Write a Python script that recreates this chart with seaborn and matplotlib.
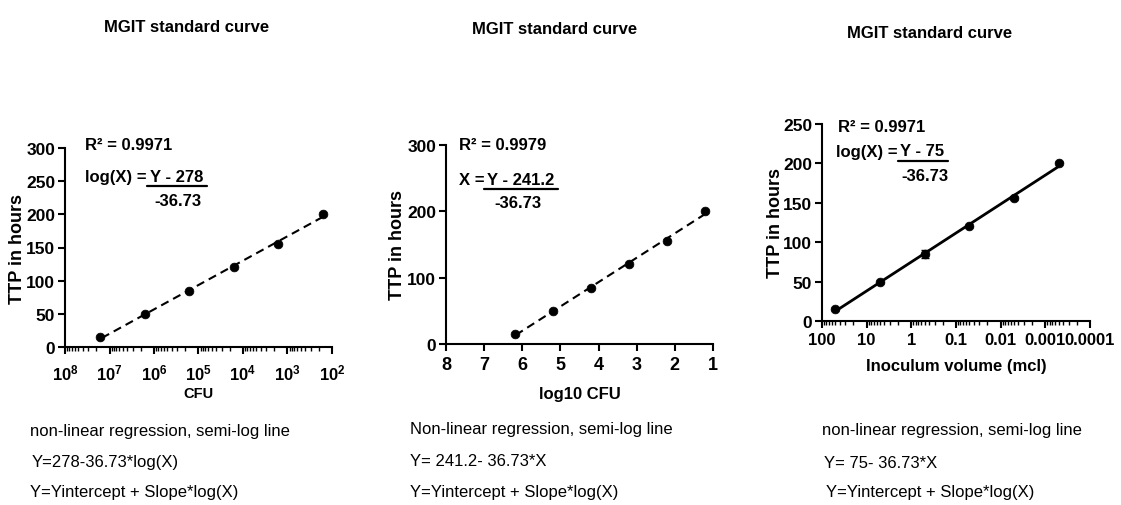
import numpy as np
import pandas as pd
import matplotlib
matplotlib.use("Agg")
import matplotlib.pyplot as plt
from matplotlib.lines import Line2D
from matplotlib.ticker import LogLocator, NullFormatter
import seaborn as sns

# --- data ---
cfu = [1.6e7, 1.6e6, 1.6e5, 1.6e4, 1.6e3, 1.6e2]
log10_cfu = [6.2, 5.2, 4.2, 3.2, 2.2, 1.2]
volume_mcl = [50, 5, 0.5, 0.05, 0.005, 0.0005]
ttp_hours = [15, 49, 85, 120, 156, 201]
ttp_sd = [1, 1, 5, 1, 1, 1]

cfu_ticks = [1e8, 1e7, 1e6, 1e5, 1e4, 1e3, 1e2]
cfu_labels = ["10$^{8}$", "10$^{7}$", "10$^{6}$", "10$^{5}$", "10$^{4}$", "10$^{3}$", "10$^{2}$"]
log_ticks = [8, 7, 6, 5, 4, 3, 2, 1]
vol_ticks = [100, 10, 1, 0.1, 0.01, 0.001, 0.0001]
vol_labels = ["100", "10", "1", "0.1", "0.01", "0.001", "0.0001"]

sns.set_style("ticks")
plt.rcParams['font.family'] = ['Liberation Sans', 'DejaVu Sans']
plt.rcParams['mathtext.fontset'] = 'custom'
plt.rcParams['mathtext.rm'] = 'Liberation Sans:bold'
plt.rcParams['mathtext.default'] = 'rm'
plt.rcParams['text.color'] = 'black'
plt.rcParams['axes.labelcolor'] = 'black'
plt.rcParams['xtick.color'] = 'black'
plt.rcParams['ytick.color'] = 'black'

W, H = 1121, 506
fig = plt.figure(figsize=(W / 100, H / 100), dpi=100)


def px_axes(l, t, r, b):
    return fig.add_axes([l / W, 1 - b / H, (r - l) / W, (b - t) / H])


def ftext(x, y, s, **kw):
    fig.text(x / W, 1 - y / H, s, **kw)


def uline(x0, x1, y):
    fig.add_artist(Line2D([x0 / W, x1 / W], [1 - y / H, 1 - y / H], color='black', lw=1.6))


df1 = pd.DataFrame({'x': cfu, 'y': ttp_hours})
df2 = pd.DataFrame({'x': log10_cfu, 'y': ttp_hours})
df3 = pd.DataFrame({'x': volume_mcl, 'y': ttp_hours, 'sd': ttp_sd})

ax1 = px_axes(65, 149, 332, 348)
ax2 = px_axes(446, 146, 713, 345)
ax3 = px_axes(822, 125, 1090, 322)

bold = dict(fontweight='bold', fontsize=12)

# panel 1
sns.regplot(data=df1, x='x', y='y', logx=True, ci=None, scatter=False, ax=ax1,
            line_kws=dict(color='black', lw=1.5, ls=(0, (4, 2.5))))
sns.scatterplot(data=df1, x='x', y='y', ax=ax1, color='black', s=40, edgecolor='black', zorder=3)
ax1.set_xscale('log')
ax1.set_xlim(1e8, 1e2)
ax1.set_xticks(cfu_ticks)
ax1.set_xticklabels(cfu_labels, fontsize=13)
ax1.set_ylim(0, 300)
ax1.set_yticks(range(0, 301, 50))
ax1.set_xlabel('CFU', fontweight='bold', fontsize=10.5, labelpad=3)

# panel 2
sns.regplot(data=df2, x='x', y='y', ci=None, scatter=False, ax=ax2,
            line_kws=dict(color='black', lw=1.5, ls=(0, (4, 2.5))))
sns.scatterplot(data=df2, x='x', y='y', ax=ax2, color='black', s=40, edgecolor='black', zorder=3)
ax2.set_xlim(8, 1)
ax2.set_xticks(log_ticks)
ax2.set_ylim(0, 300)
ax2.set_yticks([0, 100, 200, 300])
ax2.set_xlabel('log10 CFU', labelpad=9, **bold)

# panel 3
sns.regplot(data=df3, x='x', y='y', logx=True, ci=None, scatter=False, ax=ax3,
            line_kws=dict(color='black', lw=2))
ax3.errorbar(df3['x'], df3['y'], yerr=df3['sd'], fmt='none', ecolor='black', elinewidth=1.5, capsize=3)
sns.scatterplot(data=df3, x='x', y='y', ax=ax3, color='black', s=40, edgecolor='black', zorder=3)
ax3.set_xscale('log')
ax3.set_xlim(100, 1e-4)
ax3.set_xticks(vol_ticks)
ax3.set_xticklabels(vol_labels)
ax3.set_ylim(0, 250)
ax3.set_yticks(range(0, 251, 50))
ax3.set_xlabel('Inoculum volume (mcl)', labelpad=8, **bold)

for ax in (ax1, ax2, ax3):
    sns.despine(ax=ax)
    for s in ('left', 'bottom'):
        ax.spines[s].set_linewidth(1.5)
        ax.spines[s].set_color('black')
    ax.tick_params(axis='both', which='major', direction='out', length=5, width=1.5,
                   colors='black', labelsize=12, pad=3)
    ax.tick_params(axis='y', which='major', labelsize=12.5, pad=2)
    for lab in ax.get_xticklabels() + ax.get_yticklabels():
        lab.set_fontweight('bold')
    ax.set_ylabel('TTP in hours', fontweight='bold', fontsize=13)

for ax in (ax1, ax3):
    ax.xaxis.set_minor_locator(LogLocator(base=10, subs=np.arange(2, 10), numticks=100))
    ax.xaxis.set_minor_formatter(NullFormatter())
    ax.tick_params(axis='x', which='minor', direction='out', length=3, width=1, bottom=True)

ax1.tick_params(axis='x', which='major', pad=6)
ax2.tick_params(axis='x', which='major', pad=4, labelsize=13)

ax1.yaxis.set_label_coords(-(65 - 26) / 267, 0.5)
ax2.yaxis.set_label_coords(-(446 - 406) / 267, 0.5)
ax3.yaxis.set_label_coords(-(822 - 784) / 268, 0.5)

# titles
ftext(187, 27, 'MGIT standard curve', ha='center', va='center', **bold)
ftext(555, 30, 'MGIT standard curve', ha='center', va='center', **bold)
ftext(930, 33, 'MGIT standard curve', ha='center', va='center', **bold)

# equations in the plots
ftext(85, 145, 'R² = 0.9971', ha='left', va='center', **bold)
ftext(85, 178, 'log(X) =', ha='left', va='center', **bold)
ftext(177, 178, 'Y - 278', ha='center', va='center', **bold)
uline(147, 207, 187)
ftext(178, 202, '-36.73', ha='center', va='center', **bold)

ftext(459, 145, 'R² = 0.9979', ha='left', va='center', **bold)
ftext(459, 181, 'X =', ha='left', va='center', **bold)
ftext(521, 181, 'Y - 241.2', ha='center', va='center', **bold)
uline(484, 558, 190)
ftext(518, 203, '-36.73', ha='center', va='center', **bold)

ftext(838, 128, 'R² = 0.9971', ha='left', va='center', **bold)
ftext(836, 152, 'log(X) =', ha='left', va='center', **bold)
ftext(922, 152, 'Y - 75', ha='center', va='center', **bold)
uline(898, 948, 162)
ftext(925, 177, '-36.73', ha='center', va='center', **bold)

# notes under each chart
note = dict(ha='left', va='center', fontsize=12)
ftext(30, 432, 'non-linear regression, semi-log line', **note)
ftext(32, 463, 'Y=278-36.73*log(X)', **note)
ftext(30, 493, 'Y=Yintercept + Slope*log(X)', **note)

ftext(410, 430, 'Non-linear regression, semi-log line', **note)
ftext(410, 462, 'Y= 241.2- 36.73*X', **note)
ftext(410, 493, 'Y=Yintercept + Slope*log(X)', **note)

ftext(822, 431, 'non-linear regression, semi-log line', **note)
ftext(824, 463, 'Y= 75- 36.73*X', **note)
ftext(826, 493, 'Y=Yintercept + Slope*log(X)', **note)

plt.savefig('out.png', dpi=100)
